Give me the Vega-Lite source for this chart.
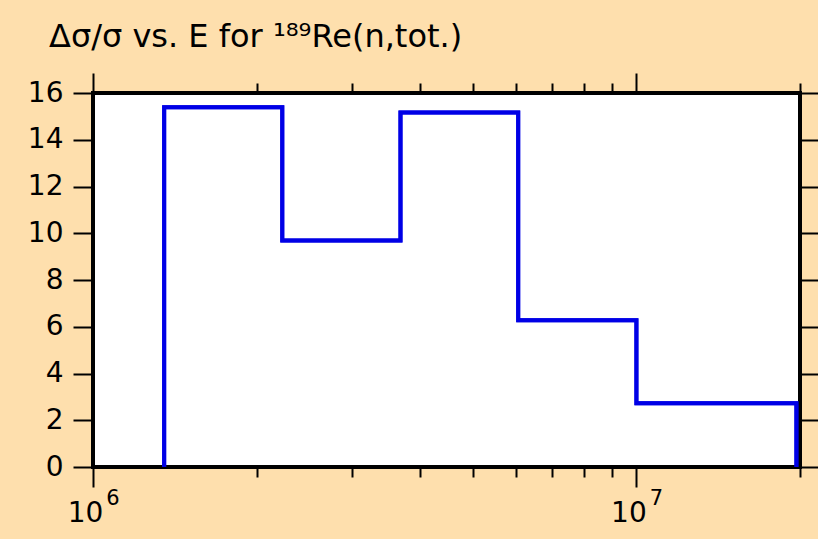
{
  "$schema": "https://vega.github.io/schema/vega-lite/v6.json",
  "width": 707,
  "height": 374,
  "autosize": {"type": "none"},
  "padding": {"left": 93, "top": 93, "right": 18, "bottom": 72},
  "background": "#fedfad",
  "title": {
    "text": "Δσ/σ vs. E for ¹⁸⁹Re(n,tot.)",
    "anchor": "start",
    "frame": "group",
    "dx": -44,
    "offset": -7,
    "baseline": "alphabetic",
    "font": "DejaVu Sans",
    "fontSize": 32,
    "fontWeight": "normal",
    "color": "black"
  },
  "config": {
    "view": {"fill": "white", "stroke": "black", "strokeWidth": 4},
    "axis": {
      "grid": false,
      "domain": false,
      "tickColor": "black",
      "tickWidth": 2,
      "labelFont": "DejaVu Sans",
      "labelFontSize": 28,
      "labelColor": "black",
      "labelOverlap": false,
      "labelFlush": false,
      "title": null
    }
  },
  "data": {
    "values": [
      {"i": 0, "E": 1352000, "rel": 0},
      {"i": 1, "E": 1352000, "rel": 15.39},
      {"i": 2, "E": 2230000, "rel": 9.69},
      {"i": 3, "E": 3680000, "rel": 15.17},
      {"i": 4, "E": 6060000, "rel": 6.28},
      {"i": 5, "E": 10000000, "rel": 2.73},
      {"i": 6, "E": 19700000, "rel": 0}
    ]
  },
  "layer": [
    {
      "mark": {"type": "line", "interpolate": "step-after", "color": "#0000e6", "strokeWidth": 4, "strokeCap": "butt", "strokeJoin": "miter"},
      "encoding": {
        "order": {"field": "i", "type": "quantitative"},
        "x": {
          "field": "E", "type": "quantitative",
          "scale": {"type": "log", "domain": [1000000, 20000000], "nice": false},
          "axis": {
            "orient": "bottom",
            "values": [1000000, 2000000, 3000000, 4000000, 5000000, 6000000, 7000000, 8000000, 9000000, 10000000, 20000000],
            "tickSize": {"condition": {"test": "datum.value == 1000000 || datum.value == 10000000", "value": 20}, "value": 10},
            "labelExpr": "datum.value == 1000000 || datum.value == 10000000 ? '10' : ''",
            "labelOffset": -8,
            "labelPadding": 12
          }
        },
        "y": {
          "field": "rel", "type": "quantitative",
          "scale": {"domain": [0, 16], "nice": false, "zero": false},
          "axis": {
            "orient": "left",
            "values": [0, 2, 4, 6, 8, 10, 12, 14, 16],
            "tickSize": 20,
            "labelPadding": 10
          }
        }
      }
    },
    {
      "mark": {"type": "line", "interpolate": "step-after", "color": "#0000e6", "strokeWidth": 4, "strokeCap": "butt", "strokeJoin": "miter"},
      "encoding": {
        "order": {"field": "i", "type": "quantitative"},
        "x": {
          "field": "E", "type": "quantitative",
          "scale": {"type": "log", "domain": [1000000, 20000000], "nice": false},
          "axis": {
            "orient": "top",
            "values": [1000000, 2000000, 3000000, 4000000, 5000000, 6000000, 7000000, 8000000, 9000000, 10000000, 20000000],
            "tickSize": {"condition": {"test": "datum.value == 1000000 || datum.value == 10000000", "value": 20}, "value": 10},
            "labels": false
          }
        },
        "y": {
          "field": "rel", "type": "quantitative",
          "scale": {"domain": [0, 16], "nice": false, "zero": false},
          "axis": {
            "orient": "right",
            "values": [0, 2, 4, 6, 8, 10, 12, 14, 16],
            "tickSize": 20,
            "labels": false
          }
        }
      }
    },
    {
      "data": {
        "values": [
          {"E": 1000000, "exponent": "6"},
          {"E": 10000000, "exponent": "7"}
        ]
      },
      "mark": {"type": "text", "font": "DejaVu Sans", "fontSize": 21, "color": "black", "align": "center", "baseline": "alphabetic", "dx": 20},
      "encoding": {
        "x": {"field": "E", "type": "quantitative", "axis": null},
        "y": {"datum": -1.62, "axis": null},
        "text": {"field": "exponent"}
      }
    }
  ],
  "resolve": {"axis": {"x": "independent", "y": "independent"}}
}
